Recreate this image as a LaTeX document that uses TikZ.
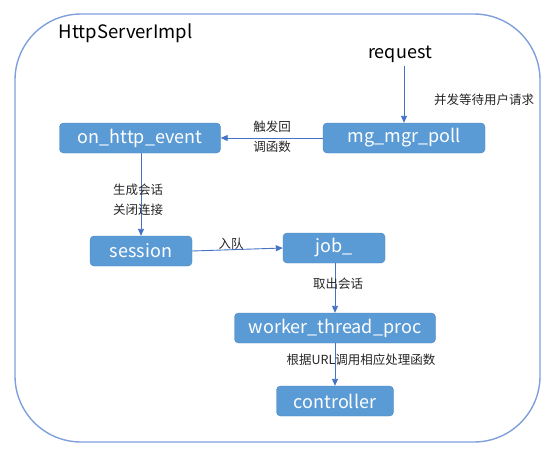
\documentclass[tikz,border=0pt]{standalone}
\usepackage{fontspec}
\setmainfont{Noto Sans CJK SC}
\usetikzlibrary{arrows.meta}
\definecolor{boxfill}{HTML}{5B9BD5}
\definecolor{boxline}{HTML}{4A86C0}
\definecolor{flowblue}{HTML}{4472C4}
\definecolor{frameblue}{HTML}{7FA0DC}

\begin{document}
\begin{tikzpicture}[x=1pt,y=-1pt,
  box/.style={draw=boxline, fill=boxfill, rounded corners=4pt, text=white, minimum height=30pt, inner sep=0pt, font=\fontsize{18}{21}\selectfont},
  flow/.style={draw=flowblue, line width=0.9pt, -{Triangle[length=7pt,width=6pt]}},
  lbl/.style={text=black!85, align=left, font=\fontsize{12.5}{20}\selectfont}]

\useasboundingbox (0,0) rectangle (554,450);

%%%%% frame
\draw[frameblue, line width=1.4pt, rounded corners=66pt] (15,14) rectangle (540,442);
\node [anchor=west, font=\fontsize{18.5}{22}\selectfont] (title) at (55,33) {HttpServerImpl};

%%%%% top row
\node [font=\fontsize{18}{21}\selectfont] (req) at (400,54) {request};
\node [box, minimum width=161pt] (event) at (140,138) {on\_http\_event};
\node [box, minimum width=162pt] (poll) at (404,138) {mg\_mgr\_poll};

\draw [flow] (req.south -| poll.north) -- (poll.north); \node [lbl] (waitlbl) at (484,100) {并发等待用户请求};
\draw [flow] (poll) -- (event); \node [lbl] (firelbl) at (272,137) {触发回\\调函数};

%%%%% session and queue
\node [box, minimum width=102pt] (session) at (141,251) {session};
\node [box, minimum width=102pt] (job) at (334,248) {job\_};

\draw [flow] (event.south -| session.north) -- (session.north); \node [lbl] (makelbl) at (138,200) {生成会话\\关闭连接};
\draw [flow] (session.east) -- (job.west); \node [lbl] (queuelbl) at (231,244) {入队};

%%%%% worker
\node [box, minimum width=201pt] (worker) at (335,328) {worker\_thread\_proc};
\node [box, minimum width=117pt] (ctrl) at (335,401) {controller};

\draw [flow] (job.south -| worker.north) -- (worker.north); \node [lbl] (takelbl) at (338,284) {取出会话};
\draw [flow] (worker.south) -- (ctrl.north); \node [lbl] (routelbl) at (361,360) {根据URL调用相应处理函数};

\end{tikzpicture}
\end{document}
